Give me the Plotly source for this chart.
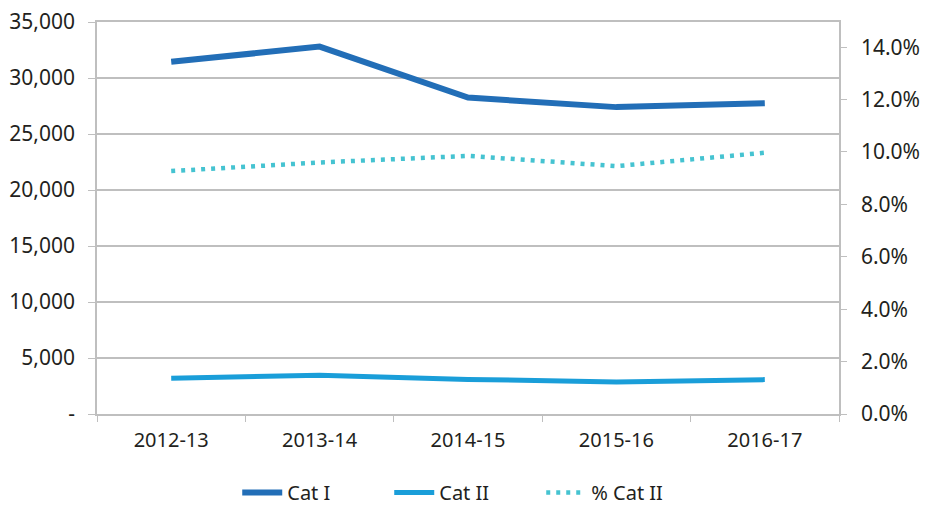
import plotly.graph_objects as go

years = ["2012-13", "2013-14", "2014-15", "2015-16", "2016-17"]
cat_i = [31450, 32800, 28250, 27400, 27750]
cat_ii = [3200, 3450, 3090, 2860, 3070]
pct_cat_ii = [0.0927, 0.0960, 0.0985, 0.0946, 0.0997]

left_ticks = [0, 5000, 10000, 15000, 20000, 25000, 30000, 35000]
left_text = ["-", "5,000", "10,000", "15,000", "20,000", "25,000", "30,000", "35,000"]
right_ticks = [0, 0.02, 0.04, 0.06, 0.08, 0.10, 0.12, 0.14]
right_text = ["0.0%", "2.0%", "4.0%", "6.0%", "8.0%", "10.0%", "12.0%", "14.0%"]

font_family = "Noto Sans"
text_color = "#231f20"
grid_color = "#bfbfbf"

fig = go.Figure()
fig.add_trace(go.Scatter(x=years, y=cat_i, name="Cat I", mode="lines",
                         line=dict(color="#226eb7", width=6)))
fig.add_trace(go.Scatter(x=years, y=cat_ii, name="Cat II", mode="lines",
                         line=dict(color="#1a9ed9", width=5)))
fig.add_trace(go.Scatter(x=years, y=pct_cat_ii, name="% Cat II", mode="lines",
                         yaxis="y2",
                         line=dict(color="#45c3d1", width=4.5, dash="4px,6px")))

# page body has an 8px default margin, so the figure is 8px smaller and shifted
fig.update_layout(
    width=921, height=499,
    margin=dict(l=89, r=90, t=14, b=93, autoexpand=False),
    plot_bgcolor="white", paper_bgcolor="white",
    font=dict(family=font_family, size=20, color=text_color),
    showlegend=True,
    legend=dict(orientation="h", x=0.189, xanchor="left", y=-0.2, yanchor="middle",
                font=dict(size=20), itemwidth=40, tracegroupgap=0,
                entrywidth=97, entrywidthmode="pixels"),
    xaxis=dict(type="category", range=[-0.5, 4.5], showgrid=False, automargin=False,
               showline=True, linecolor=grid_color, linewidth=1.5, mirror=True,
               ticks="outside", tickson="boundaries", ticklen=6, tickcolor=grid_color,
               tickfont=dict(size=20), zeroline=False, ticklabelstandoff=7),
    yaxis=dict(range=[0, 35000], tickvals=left_ticks, ticktext=left_text, automargin=False,
               showgrid=True, gridcolor=grid_color, gridwidth=1.5,
               showline=True, linecolor=grid_color, linewidth=1.5,
               ticks="outside", ticklen=7, tickcolor=grid_color, ticklabeloverflow="allow",
               zeroline=False, tickfont=dict(size=21), ticklabelstandoff=9),
    yaxis2=dict(range=[0, 0.1496], tickvals=right_ticks, ticktext=right_text,
                overlaying="y", side="right", showgrid=False, automargin=False,
                showline=True, linecolor=grid_color, linewidth=1.5,
                ticks="outside", ticklen=6, tickcolor=grid_color, ticklabeloverflow="allow",
                zeroline=False, tickfont=dict(size=21), ticklabelstandoff=10),
)

fig.write_html("out.html")
